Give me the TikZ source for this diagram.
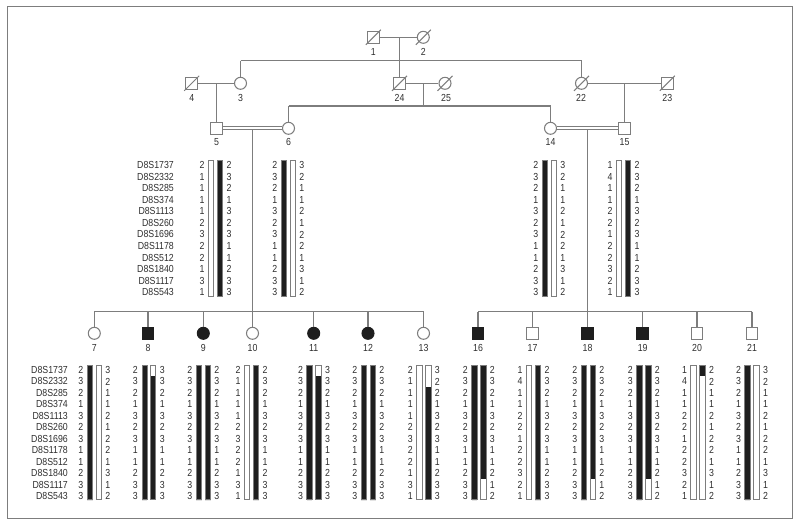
\documentclass[tikz,border=0pt]{standalone}
\usepackage{fontspec}
\setmainfont{Liberation Sans}[FakeStretch=0.86]
\definecolor{lg}{HTML}{7D7D7D}
\definecolor{hb}{HTML}{1E1E1E}
\definecolor{tx}{HTML}{2E2E2E}
\newcommand{\rsp}{11.58}
\newcommand{\habar}[5]{%
  \pgfmathsetmacro{\hbt}{#2-5}%
  \pgfmathsetmacro{\hbb}{#2+11*\rsp+3.8}%
  \pgfmathsetmacro{\hbs}{min(#2+(#3-0.5)*\rsp,\hbb)}%
  \fill[#4] (#1-2.7,\hbt) rectangle (#1+2.7,\hbs);
  \fill[#5] (#1-2.7,\hbs) rectangle (#1+2.7,\hbb);
  \draw[barln] (#1-2.7,\hbt) rectangle (#1+2.7,\hbb);
}
\newcommand{\hapnums}[5]{%
  \foreach \v [count=\k from 0] in {#4} \node[num] (#1l\k) at (#2-13.5,#3+\k*\rsp) {\v};
  \foreach \v [count=\k from 0] in {#5} \node[num] (#1r\k) at (#2+13.5,#3+\k*\rsp) {\v};
}
\tikzset{
  ln/.style={draw=lg, line width=1.05pt},
  ind/.style={draw=lg, line width=1.05pt, fill=white, inner sep=0pt},
  male/.style={ind, rectangle, minimum size=11.6pt},
  female/.style={ind, circle, minimum size=12pt},
  aff/.style={fill=hb, draw=hb},
  maleA/.style={male, aff},
  femaleA/.style={female, aff},
  lab/.style={font=\fontsize{10.2}{11}\selectfont, inner sep=0pt, text=tx},
  num/.style={lab},
  mk/.style={lab, anchor=east},
  barln/.style={draw=lg, line width=0.7pt},
  frame/.style={draw=lg, line width=0.9pt},
  cons/.style={draw=lg, line width=0.95pt, double=white, double distance=2.1pt},
}
\begin{document}
\begin{tikzpicture}[x=1pt,y=-1pt]
\useasboundingbox (0,0) rectangle (800,525);
\draw[frame] (7,6) rectangle (792,518);

% ---------- generation I
\node[male] (p1) at (373.3,37.3) {};
\node[female] (p2) at (423.3,37.3) {};
\node[lab] (l1) at (373.3,51.7) {1};
\node[lab] (l2) at (423.3,51.7) {2};
% ---------- generation II
\node[male] (p4) at (191.7,83.3) {};
\node[female] (p3) at (240.5,83.3) {};
\node[male] (p24) at (399.5,83.3) {};
\node[female] (p25) at (445,83.3) {};
\node[female] (p22) at (581.5,83.3) {};
\node[male] (p23) at (667.3,83.3) {};
\foreach \n/\x in {4/191.7,3/240.5,24/399.5,25/446,22/581,23/667.3}
  \node[lab] (l\n) at (\x,97.5) {\n};
% ---------- generation III
\node[male] (p5) at (216.5,128.3) {};
\node[female] (p6) at (288.5,128.3) {};
\node[female] (p14) at (550.5,128.3) {};
\node[male] (p15) at (624.5,128.3) {};
\foreach \n/\x in {5/216.5,6/288.5,14/550.5,15/624.5}
  \node[lab] (l\n) at (\x,141.7) {\n};

% ---------- connectors top
\coordinate (m12) at (399.5,37.3);
\coordinate (s12a) at (240.5,60.7);
\coordinate (s12b) at (581.5,60.7);
\draw[ln] (p1) -- (p2);
\draw[ln] (m12) -- (p24);
\draw[ln] (s12a) -- (s12b);
\draw[ln] (s12a) -- (p3);
\draw[ln] (s12b) -- (p22);
\coordinate (m43) at (216.5,83.3);
\draw[ln] (p4) -- (p3);
\draw[ln] (m43) -- (p5);
\coordinate (m2425) at (423.5,83.3);
\coordinate (s2425) at (423.5,106);
\coordinate (s2425a) at (288.5,106);
\coordinate (s2425b) at (550.5,106);
\draw[ln] (p24) -- (p25);
\draw[ln] (m2425) -- (s2425);
\draw[ln] (s2425a) -- (s2425b);
\draw[ln] (s2425a) -- (p6);
\draw[ln] (s2425b) -- (p14);
\coordinate (m2223) at (624.5,83.3);
\draw[ln] (p22) -- (p23);
\draw[ln] (m2223) -- (p15);
% deceased
\foreach \p in {p1,p2,p4,p24,p25,p22,p23}
  \draw[ln] ([shift={(-7.5,7.5)}]\p.center) -- ([shift={(7.5,-7.5)}]\p.center);

% ---------- generation IV
\coordinate (d56) at (252.5,129.5);
\coordinate (sl) at (252.5,311.5);
\coordinate (sla) at (94.3,311.5);
\coordinate (slb) at (423.5,311.5);
\draw[ln] (d56) -- (sl);
\draw[ln] (sla) -- (slb);
\draw[cons] (p5) -- (p6);
\coordinate (d1415) at (587.5,129.5);
\coordinate (sr) at (587.5,311.5);
\coordinate (sra) at (478,311.5);
\coordinate (srb) at (752,311.5);
\draw[ln] (d1415) -- (sr);
\draw[ln] (sra) -- (srb);
\draw[cons] (p14) -- (p15);

\foreach \n/\x/\s in {7/94.3/female,8/148/maleA,9/203.3/femaleA,10/252.5/female,
    11/313.7/femaleA,12/368/femaleA,13/423.5/female,
    16/478/maleA,17/532.5/male,18/587.5/maleA,19/642.7/maleA,20/697/male,21/752/male}{
  \node[\s] (p\n) at (\x,333.3) {};
  \node[lab] (l\n) at (\x,347.7) {\n};
  \draw[ln] (\x,311.5) -- (p\n);
}

% ---------- markers
\foreach \m [count=\k from 0] in {D8S1737,D8S2332,D8S285,D8S374,D8S1113,D8S260,D8S1696,D8S1178,D8S512,D8S1840,D8S1117,D8S543}{
  \node[mk] (mm\k) at (174,165+\k*11.58) {\m};
  \node[mk] (mb\k) at (68,370+\k*11.45) {\m};
}

% ---------- haplotypes, generation III
\habar{211.1}{165}{12}{white}{white}\habar{220.1}{165}{12}{hb}{hb}
\hapnums{h5}{215.6}{165}{2,1,1,1,1,2,3,2,2,1,3,1}{2,3,2,1,3,2,3,1,1,2,3,3}
\habar{283.9}{165}{12}{hb}{hb}\habar{292.9}{165}{12}{white}{white}
\hapnums{h6}{288.4}{165}{2,3,2,1,3,2,3,1,1,2,3,3}{3,2,1,1,2,1,2,2,1,3,1,2}
\habar{544.8}{165}{12}{hb}{hb}\habar{553.8}{165}{12}{white}{white}
\hapnums{h14}{549.3}{165}{2,3,2,1,3,2,3,1,1,2,3,3}{3,2,1,1,2,1,2,2,1,3,1,2}
\habar{619}{165}{12}{white}{white}\habar{628}{165}{12}{hb}{hb}
\hapnums{h15}{623.5}{165}{1,4,1,1,2,2,1,2,2,3,2,1}{2,3,2,1,3,2,3,1,1,2,3,3}

% ---------- haplotypes, generation IV
\renewcommand{\rsp}{11.45}
\habar{90}{370}{12}{hb}{hb}\habar{98.7}{370}{12}{white}{white}
\hapnums{h7}{94.3}{370}{2,3,2,1,3,2,3,1,1,2,3,3}{3,2,1,1,2,1,2,2,1,3,1,2}
\habar{144.6}{370}{12}{hb}{hb}\habar{153.1}{370}{1}{white}{hb}
\hapnums{h8}{148.8}{370}{2,3,2,1,3,2,3,1,1,2,3,3}{3,3,2,1,3,2,3,1,1,2,3,3}
\habar{198.8}{370}{12}{hb}{hb}\habar{207.8}{370}{12}{hb}{hb}
\hapnums{h9}{203.3}{370}{2,3,2,1,3,2,3,1,1,2,3,3}{2,3,2,1,3,2,3,1,1,2,3,3}
\habar{247}{370}{12}{white}{white}\habar{256}{370}{12}{hb}{hb}
\hapnums{h10}{251.5}{370}{2,1,1,1,1,2,3,2,2,1,3,1}{2,3,2,1,3,2,3,1,1,2,3,3}
\habar{309.5}{370}{12}{hb}{hb}\habar{318.5}{370}{1}{white}{hb}
\hapnums{h11}{314}{370}{2,3,2,1,3,2,3,1,1,2,3,3}{3,3,2,1,3,2,3,1,1,2,3,3}
\habar{363.8}{370}{12}{hb}{hb}\habar{372.8}{370}{12}{hb}{hb}
\hapnums{h12}{368.3}{370}{2,3,2,1,3,2,3,1,1,2,3,3}{2,3,2,1,3,2,3,1,1,2,3,3}
\habar{419.2}{370}{12}{white}{white}\habar{428.2}{370}{2}{white}{hb}
\hapnums{h13}{423.7}{370}{2,1,1,1,1,2,3,2,2,1,3,1}{3,2,2,1,3,2,3,1,1,2,3,3}
\habar{474.2}{370}{12}{hb}{hb}\habar{483.2}{370}{10}{hb}{white}
\hapnums{h16}{478.7}{370}{2,3,2,1,3,2,3,1,1,2,3,3}{2,3,2,1,3,2,3,1,1,2,1,2}
\habar{529}{370}{12}{white}{white}\habar{538}{370}{12}{hb}{hb}
\hapnums{h17}{533.5}{370}{1,4,1,1,2,2,1,2,2,3,2,1}{2,3,2,1,3,2,3,1,1,2,3,3}
\habar{583.8}{370}{12}{hb}{hb}\habar{592.8}{370}{10}{hb}{white}
\hapnums{h18}{588.3}{370}{2,3,2,1,3,2,3,1,1,2,3,3}{2,3,2,1,3,2,3,1,1,2,1,2}
\habar{639.2}{370}{12}{hb}{hb}\habar{648.2}{370}{10}{hb}{white}
\hapnums{h19}{643.7}{370}{2,3,2,1,3,2,3,1,1,2,3,3}{2,3,2,1,3,2,3,1,1,2,1,2}
\habar{693.5}{370}{12}{white}{white}\habar{702.5}{370}{1}{hb}{white}
\hapnums{h20}{698}{370}{1,4,1,1,2,2,1,2,2,3,2,1}{2,2,1,1,2,1,2,2,1,3,1,2}
\habar{747.5}{370}{12}{hb}{hb}\habar{756.5}{370}{12}{white}{white}
\hapnums{h21}{752}{370}{2,3,2,1,3,2,3,1,1,2,3,3}{3,2,1,1,2,1,2,2,1,3,1,2}
\end{tikzpicture}
\end{document}
